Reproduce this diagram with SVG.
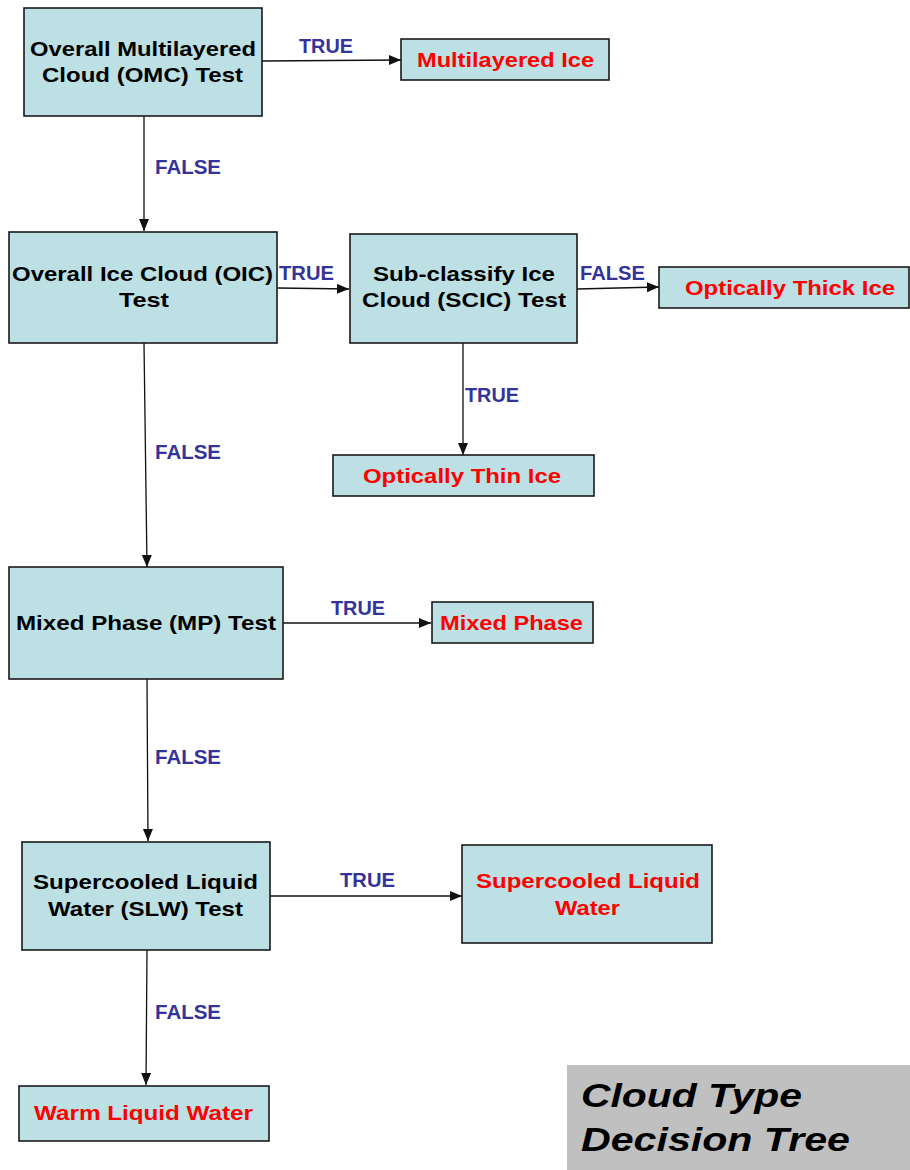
<svg xmlns="http://www.w3.org/2000/svg" width="910" height="1170" viewBox="0 0 910 1170">
<style>
.box{fill:#bce0e3;stroke:#1a1a1a;stroke-width:1.6}
.t{font-family:"Liberation Sans",Arial,sans-serif;font-weight:bold;font-size:21px;fill:#000;text-anchor:start}
.r{fill:#ff0000}
.lbl{font-family:"Liberation Sans",Arial,sans-serif;font-weight:bold;font-size:20px;fill:#333399}
.c{fill:none;stroke:#111;stroke-width:1.3;marker-end:url(#ah)}
.title{font-family:"Liberation Sans",Arial,sans-serif;font-weight:bold;font-style:italic;font-size:34px;fill:#000}
</style>
<defs>
<marker id="ah" markerUnits="userSpaceOnUse" markerWidth="14" markerHeight="12" refX="12" refY="5" orient="auto">
<path d="M0,0 L12,5 L0,10 z" fill="#111"/>
</marker>
</defs>
<rect width="910" height="1170" fill="#fff"/>
<g id="connectors">
<path class="c" d="M262,61 L401,60"/>
<path class="c" d="M144,116 L144,231"/>
<path class="c" d="M278,288 L349,289"/>
<path class="c" d="M577,289 L659,287"/>
<path class="c" d="M463,343 L463,455"/>
<path class="c" d="M144,343 L147,567"/>
<path class="c" d="M283,623 L431,623"/>
<path class="c" d="M147,679 L148,841"/>
<path class="c" d="M270,896 L462,896"/>
<path class="c" d="M147,950 L146,1085"/>
<text class="lbl" x="299" y="53" textLength="54" lengthAdjust="spacingAndGlyphs">TRUE</text>
<text class="lbl" x="155" y="174" textLength="66" lengthAdjust="spacingAndGlyphs">FALSE</text>
<text class="lbl" x="279" y="280" textLength="55" lengthAdjust="spacingAndGlyphs">TRUE</text>
<text class="lbl" x="580" y="280" textLength="65" lengthAdjust="spacingAndGlyphs">FALSE</text>
<text class="lbl" x="465" y="402" textLength="54" lengthAdjust="spacingAndGlyphs">TRUE</text>
<text class="lbl" x="155" y="459" textLength="66" lengthAdjust="spacingAndGlyphs">FALSE</text>
<text class="lbl" x="331" y="615" textLength="54" lengthAdjust="spacingAndGlyphs">TRUE</text>
<text class="lbl" x="155" y="764" textLength="66" lengthAdjust="spacingAndGlyphs">FALSE</text>
<text class="lbl" x="340" y="887" textLength="55" lengthAdjust="spacingAndGlyphs">TRUE</text>
<text class="lbl" x="155" y="1019" textLength="66" lengthAdjust="spacingAndGlyphs">FALSE</text>
</g>
<g id="omc">
<rect class="box" x="24" y="8" width="238" height="108"/>
<text class="t" x="30" y="56" textLength="226" lengthAdjust="spacingAndGlyphs">Overall Multilayered</text>
<text class="t" x="42" y="82" textLength="201" lengthAdjust="spacingAndGlyphs">Cloud (OMC) Test</text>
</g>
<g id="multilayered-ice">
<rect class="box" x="401" y="39" width="208" height="41"/>
<text class="t r" x="417" y="67" textLength="177" lengthAdjust="spacingAndGlyphs">Multilayered Ice</text>
</g>
<g id="oic">
<rect class="box" x="9" y="232" width="268" height="111"/>
<text class="t" x="12" y="281" textLength="261" lengthAdjust="spacingAndGlyphs">Overall Ice Cloud (OIC)</text>
<text class="t" x="119" y="307" textLength="50" lengthAdjust="spacingAndGlyphs">Test</text>
</g>
<g id="scic">
<rect class="box" x="350" y="234" width="227" height="109"/>
<text class="t" x="373" y="281" textLength="182" lengthAdjust="spacingAndGlyphs">Sub-classify Ice</text>
<text class="t" x="362" y="307" textLength="204" lengthAdjust="spacingAndGlyphs">Cloud (SCIC) Test</text>
</g>
<g id="optically-thick-ice">
<rect class="box" x="659" y="267" width="250" height="41"/>
<text class="t r" x="685" y="295" textLength="210" lengthAdjust="spacingAndGlyphs">Optically Thick Ice</text>
</g>
<g id="optically-thin-ice">
<rect class="box" x="333" y="455" width="261" height="41"/>
<text class="t r" x="363" y="483" textLength="198" lengthAdjust="spacingAndGlyphs">Optically Thin Ice</text>
</g>
<g id="mp">
<rect class="box" x="9" y="567" width="274" height="112"/>
<text class="t" x="16" y="630" textLength="260" lengthAdjust="spacingAndGlyphs">Mixed Phase (MP) Test</text>
</g>
<g id="mixed-phase">
<rect class="box" x="432" y="602" width="161" height="41"/>
<text class="t r" x="440" y="630" textLength="143" lengthAdjust="spacingAndGlyphs">Mixed Phase</text>
</g>
<g id="slw">
<rect class="box" x="22" y="842" width="248" height="108"/>
<text class="t" x="33" y="889" textLength="225" lengthAdjust="spacingAndGlyphs">Supercooled Liquid</text>
<text class="t" x="48" y="916" textLength="195" lengthAdjust="spacingAndGlyphs">Water (SLW) Test</text>
</g>
<g id="supercooled-liquid-water">
<rect class="box" x="462" y="845" width="250" height="98"/>
<text class="t r" x="476" y="888" textLength="224" lengthAdjust="spacingAndGlyphs">Supercooled Liquid</text>
<text class="t r" x="555" y="915" textLength="65" lengthAdjust="spacingAndGlyphs">Water</text>
</g>
<g id="warm-liquid-water">
<rect class="box" x="19" y="1086" width="250" height="55"/>
<text class="t r" x="34" y="1120" textLength="219" lengthAdjust="spacingAndGlyphs">Warm Liquid Water</text>
</g>
<g id="title">
<rect x="567" y="1065" width="343" height="105" fill="#c0c0c0"/>
<text class="title" x="581" y="1107" textLength="221" lengthAdjust="spacingAndGlyphs">Cloud Type</text>
<text class="title" x="581" y="1151" textLength="269" lengthAdjust="spacingAndGlyphs">Decision Tree</text>
</g>
</svg>
